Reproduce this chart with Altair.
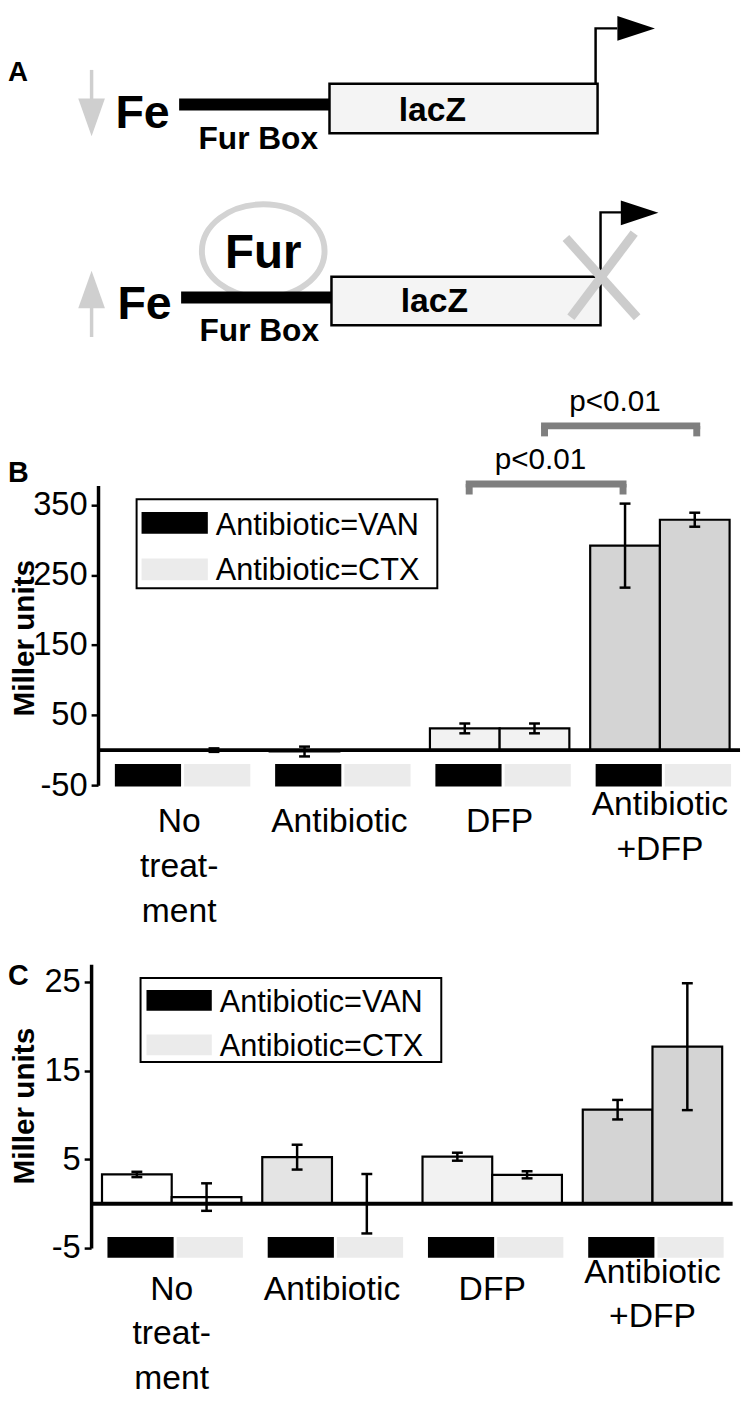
import altair as alt
import pandas as pd

FONT = "Liberation Sans"
BLACK = "#000000"

# ------------------------------------------------------------------ data
treatments = ["No treatment", "Antibiotic", "DFP", "Antibiotic+DFP"]
treatment_lines = [["No", "treat-", "ment"], ["Antibiotic"], ["DFP"], ["Antibiotic", "+DFP"]]
antibiotics = ["VAN", "CTX"]
legend_labels = ["Antibiotic=VAN", "Antibiotic=CTX"]

# panel B (Miller units)
b_van = [0.0, -2.0, 31.0, 292.0]
b_van_err = [0.0, 7.0, 7.0, 60.0]
b_ctx = [0.0, 0.0, 31.0, 329.0]
b_ctx_err = [2.5, 0.0, 7.0, 10.0]
b_ticks = [-50, 50, 150, 250, 350]

# panel C (Miller units)
c_van = [3.3, 5.25, 5.3, 10.6]
c_van_err = [0.3, 1.4, 0.45, 1.1]
c_ctx = [0.75, 0.0, 3.26, 17.7]
c_ctx_err = [1.55, 3.35, 0.4, 7.15]
c_ticks = [-5, 5, 15, 25]

# significance brackets in panel B (group units / Miller units)
sig_labels = ["p<0.01", "p<0.01"]
sig_from = [2.31, 2.78]
sig_to = [3.27, 3.73]
sig_level = [380.0, 463.0]

# panel A schematic (diagram units)
gene_x1 = [333, 335]
gene_x2 = [604, 607]
gene_y1 = [77, 272]
gene_y2 = [127, 321]
gene_label_x = [437, 439]
gene_label_y = [115, 308]
gene_labels = ["lacZ", "lacZ"]
furbox_x1 = [181, 183]
furbox_x2 = [333, 337]
furbox_y = [98, 293]
furbox_label_x = [261, 262]
furbox_label_y = [143, 337]
furbox_labels = ["Fur Box", "Fur Box"]
fe_x = [144, 146]
fe_y = [122, 315]
fe_labels = ["Fe", "Fe"]
promoter_id = [0, 0, 0, 1, 1, 1]
promoter_step = [0, 1, 2, 0, 1, 2]
promoter_x = [602, 602, 624, 607, 607, 628]
promoter_y = [77, 21, 21, 272, 207, 207]
promoter_head_x = [643, 646.5]
promoter_head_y = [21, 207.5]
iron_x = [92.5, 92.5]
iron_y1 = [63, 300]
iron_y2 = [95, 333]
iron_down_head = (92.5, 111)
iron_up_head = (92.5, 285)
fur_center = (266, 246)
fur_text_y = 263
block_x1 = [572, 641]
block_y1 = [233, 228]
block_x2 = [644, 577]
block_y2 = [313, 313]

# ------------------------------------------------------------------ panel A
xA = alt.Scale(domain=[8, 742], range=[0, 734], nice=False, zero=False)
yA = alt.Scale(domain=[8, 350], range=[0, 342], nice=False, zero=False)


def XA(f):
    return alt.X(f, type="quantitative", scale=xA, axis=None)


def YA(f):
    return alt.Y(f, type="quantitative", scale=yA, axis=None)


ELLIPSE = "M-1,0A1,0.76,0,1,1,1,0A1,0.76,0,1,1,-1,0Z"
TRI_RIGHT = "M-1,-0.66L1,0L-1,0.66Z"
TRI_DOWN = "M-0.71,-1L0.71,-1L0,1Z"
TRI_UP = "M0,-1L0.71,1L-0.71,1Z"
GREY_SYM = "#cfcfcf"

genes = pd.DataFrame(dict(x1=gene_x1, x2=gene_x2, y1=gene_y1, y2=gene_y2,
                          lx=gene_label_x, ly=gene_label_y, label=gene_labels))
furbox = pd.DataFrame(dict(x1=furbox_x1, x2=furbox_x2, y=furbox_y,
                           lx=furbox_label_x, ly=furbox_label_y, label=furbox_labels))
fe = pd.DataFrame(dict(x=fe_x, y=fe_y, label=fe_labels))
prom = pd.DataFrame(dict(pid=promoter_id, step=promoter_step, x=promoter_x, y=promoter_y))
prom_head = pd.DataFrame(dict(x=promoter_head_x, y=promoter_head_y))
iron = pd.DataFrame(dict(x=iron_x, y1=iron_y1, y2=iron_y2))
down_head = pd.DataFrame(dict(x=[iron_down_head[0]], y=[iron_down_head[1]]))
up_head = pd.DataFrame(dict(x=[iron_up_head[0]], y=[iron_up_head[1]]))
fur = pd.DataFrame(dict(x=[fur_center[0]], y=[fur_center[1]], ty=[fur_text_y], label=["Fur"]))
block = pd.DataFrame(dict(x1=block_x1, y1=block_y1, x2=block_x2, y2=block_y2))
letterA = pd.DataFrame(dict(x=[8], y=[74], label=["A"]))

a_layers = [
    alt.Chart(fur).mark_point(shape=ELLIPSE, size=124 ** 2, filled=False, color="#d3d3d3",
                              strokeWidth=6, opacity=1).encode(x=XA("x"), y=YA("y")),
    alt.Chart(furbox).mark_rule(color=BLACK, strokeWidth=12).encode(x=XA("x1"), x2="x2", y=YA("y")),
    alt.Chart(genes).mark_rect(fill="#f4f4f4", stroke=BLACK, strokeWidth=2.5).encode(
        x=XA("x1"), x2="x2", y=YA("y1"), y2="y2"),
    alt.Chart(prom).mark_line(color=BLACK, strokeWidth=2.5).encode(
        x=XA("x"), y=YA("y"), detail="pid:N", order="step:O"),
    alt.Chart(prom_head).mark_point(shape=TRI_RIGHT, size=38 ** 2, filled=True, color=BLACK,
                                    opacity=1, strokeWidth=0).encode(x=XA("x"), y=YA("y")),
    alt.Chart(iron).mark_rule(color=GREY_SYM, strokeWidth=3.5).encode(x=XA("x"), y=YA("y1"), y2="y2"),
    alt.Chart(down_head).mark_point(shape=TRI_DOWN, size=38 ** 2, filled=True, color=GREY_SYM,
                                    opacity=1, strokeWidth=0).encode(x=XA("x"), y=YA("y")),
    alt.Chart(up_head).mark_point(shape=TRI_UP, size=38 ** 2, filled=True, color=GREY_SYM,
                                  opacity=1, strokeWidth=0).encode(x=XA("x"), y=YA("y")),
    alt.Chart(block).mark_rule(color="#cccccc", strokeWidth=9).encode(
        x=XA("x1"), y=YA("y1"), x2="x2", y2="y2"),
    alt.Chart(fe).mark_text(font=FONT, fontSize=47, fontWeight="bold", color=BLACK,
                            align="center", baseline="alphabetic").encode(
        x=XA("x"), y=YA("y"), text="label:N"),
    alt.Chart(furbox).mark_text(font=FONT, fontSize=32, fontWeight="bold", color=BLACK,
                                align="center", baseline="alphabetic").encode(
        x=XA("lx"), y=YA("ly"), text="label:N"),
    alt.Chart(genes).mark_text(font=FONT, fontSize=34, fontWeight="bold", color=BLACK,
                               align="center", baseline="alphabetic").encode(
        x=XA("lx"), y=YA("ly"), text="label:N"),
    alt.Chart(fur).mark_text(font=FONT, fontSize=48, fontWeight="bold", color=BLACK,
                             align="center", baseline="alphabetic").encode(
        x=XA("x"), y=YA("ty"), text="label:N"),
    alt.Chart(letterA).mark_text(font=FONT, fontSize=28, fontWeight="bold", color=BLACK,
                                 align="left", baseline="alphabetic").encode(
        x=XA("x"), y=YA("y"), text="label:N"),
]
panelA = alt.layer(*a_layers).properties(width=734, height=342)

# ------------------------------------------------------------------ bar panels
BAR_W = 0.435
CAP = 0.034
SW_OFF = [(-0.401, 0.012), (0.031, 0.444)]
bar_fills = ["#ffffff", "#e4e4e4", "#f2f2f2", "#d4d4d4"]
swatch_colors = ["#000000", "#ebebeb"]


def bar_table(van, van_err, ctx, ctx_err):
    rows = []
    for g, t in enumerate(treatments):
        for a, vals, errs in (("VAN", van, van_err), ("CTX", ctx, ctx_err)):
            left = g + 0.5 - BAR_W if a == "VAN" else g + 0.5
            c = left + BAR_W / 2
            v, e = vals[g], errs[g]
            rows.append(dict(treatment=t, antibiotic=a, x1=left, x2=left + BAR_W, xc=c,
                             cl=c - CAP, cr=c + CAP, v=v, zero=0.0, err=e, lo=v - e, hi=v + e))
    return pd.DataFrame(rows)


def bar_panel(letter, letter_y, van, van_err, ctx, ctx_err, ticks, y_dom, y_rng, x_rng,
              axis_x, title_y, sw_band, lab_top, lab_top2, line_h, leg, height, extra=None):
    xs = alt.Scale(domain=[0, 4], range=x_rng, nice=False, zero=False)
    ys = alt.Scale(domain=y_dom, range=y_rng, nice=False, zero=False)
    yaxis = alt.Axis(values=ticks, labelExpr="datum.value + ''", orient="left", offset=-axis_x,
                     domainColor=BLACK, domainWidth=3.5, tickColor=BLACK, tickWidth=2.5, tickSize=7,
                     labelFont=FONT, labelFontSize=33, labelColor=BLACK, labelPadding=4,
                     labelFlush=False, labelOverlap=False, grid=False, minExtent=0,
                     title="Miller units", titleFont=FONT, titleFontSize=30, titleFontWeight="bold",
                     titleColor=BLACK, titleX=17 - axis_x, titleY=title_y, titleAngle=270,
                     titleAlign="center", titleBaseline="middle")

    def X(f):
        return alt.X(f, type="quantitative", scale=xs, axis=None)

    def Y(f):
        return alt.Y(f, type="quantitative", scale=ys, axis=yaxis)

    fill_scale = alt.Scale(domain=treatments, range=bar_fills)
    sw_scale = alt.Scale(domain=antibiotics, range=swatch_colors)

    bars = bar_table(van, van_err, ctx, ctx_err)
    errs = bars[bars["err"] > 0]
    base = pd.DataFrame(dict(x1=[0.0], x2=[4.0], y=[0.0]))
    sw_rows = []
    for g in range(4):
        for a, (o1, o2) in zip(antibiotics, SW_OFF):
            sw_rows.append(dict(antibiotic=a, x1=g + 0.5 + o1, x2=g + 0.5 + o2,
                                y1=sw_band[0], y2=sw_band[1]))
    sw = pd.DataFrame(sw_rows)
    labs = pd.DataFrame(dict(x=[g + 0.5 for g in range(4)],
                             label=["\n".join(l) for l in treatment_lines],
                             n=[len(l) for l in treatment_lines]))

    layers = [
        alt.Chart(bars).mark_bar(stroke=BLACK, strokeWidth=2.2, opacity=1).encode(
            x=X("x1"), x2="x2", y=Y("v"), y2="zero",
            fill=alt.Fill("treatment:N", scale=fill_scale, legend=None)),
        alt.Chart(base).mark_rule(color=BLACK, strokeWidth=4).encode(x=X("x1"), x2="x2", y=Y("y")),
        alt.Chart(errs).mark_rule(color=BLACK, strokeWidth=2.5).encode(x=X("xc"), y=Y("lo"), y2="hi"),
        alt.Chart(errs).mark_rule(color=BLACK, strokeWidth=2.5).encode(x=X("cl"), x2="cr", y=Y("lo")),
        alt.Chart(errs).mark_rule(color=BLACK, strokeWidth=2.5).encode(x=X("cl"), x2="cr", y=Y("hi")),
        alt.Chart(sw).mark_rect(opacity=1).encode(
            x=X("x1"), x2="x2", y=Y("y1"), y2="y2",
            color=alt.Color("antibiotic:N", scale=sw_scale, legend=None)),
        alt.Chart(labs[labs["n"] != 2]).mark_text(
            font=FONT, fontSize=34, color=BLACK, align="center", baseline="top",
            lineBreak="\n", lineHeight=line_h).encode(x=X("x"), y=alt.value(lab_top), text="label:N"),
        alt.Chart(labs[labs["n"] == 2]).mark_text(
            font=FONT, fontSize=34, color=BLACK, align="center", baseline="top",
            lineBreak="\n", lineHeight=line_h).encode(x=X("x"), y=alt.value(lab_top2), text="label:N"),
    ]
    # manual legend
    bx1, by1, bx2, by2, sx1, sx2, sy, tx, ty = leg
    one = pd.DataFrame(dict(k=[0]))
    layers.append(alt.Chart(one).mark_rect(fill="white", stroke=BLACK, strokeWidth=2).encode(
        x=alt.value(bx1), x2=alt.value(bx2), y=alt.value(by1), y2=alt.value(by2)))
    for i, (a, lab) in enumerate(zip(antibiotics, legend_labels)):
        row = pd.DataFrame(dict(antibiotic=[a], label=[lab]))
        layers.append(alt.Chart(row).mark_rect(opacity=1).encode(
            x=alt.value(sx1), x2=alt.value(sx2), y=alt.value(sy[i][0]), y2=alt.value(sy[i][1]),
            color=alt.Color("antibiotic:N", scale=sw_scale, legend=None)))
        layers.append(alt.Chart(row).mark_text(
            font=FONT, fontSize=31, color=BLACK, align="left", baseline="alphabetic").encode(
            x=alt.value(tx), y=alt.value(ty[i]), text="label:N"))
    layers.append(alt.Chart(one).mark_text(
        text=letter, font=FONT, fontSize=29, fontWeight="bold", color=BLACK,
        align="left", baseline="alphabetic").encode(x=alt.value(0), y=alt.value(letter_y)))
    if extra is not None:
        layers += extra(X, Y)
    return alt.layer(*layers).properties(width=734, height=height)


def brackets(X, Y):
    drop = 15.0
    br = pd.DataFrame(dict(x1=sig_from, x2=sig_to, y=sig_level,
                           yl=[v - drop for v in sig_level],
                           ty=[v + 21.5 for v in sig_level],
                           tx=[(a + b) / 2 - 0.035 for a, b in zip(sig_from, sig_to)],
                           label=sig_labels))
    grey = "#7f7f7f"
    return [
        alt.Chart(br).mark_rule(color=grey, strokeWidth=7, strokeCap="square").encode(
            x=X("x1"), x2="x2", y=Y("y")),
        alt.Chart(br).mark_rule(color=grey, strokeWidth=7).encode(x=X("x1"), y=Y("yl"), y2="y"),
        alt.Chart(br).mark_rule(color=grey, strokeWidth=7).encode(x=X("x2"), y=Y("yl"), y2="y"),
        alt.Chart(br).mark_text(font=FONT, fontSize=30, color=BLACK, align="center",
                                baseline="alphabetic").encode(x=X("tx"), y=Y("ty"), text="label:N"),
    ]


panelB = bar_panel(
    "B", 130, b_van, b_van_err, b_ctx, b_ctx_err, b_ticks,
    y_dom=[-50, 378], y_rng=[436, 133], x_rng=[92, 740], axis_x=91, title_y=287,
    sw_band=(-20, -52), lab_top=456, lab_top2=439, line_h=45.5,
    leg=(130, 147, 434, 237, 135, 202, [(160, 182), (207, 229)], 210, [183, 229]),
    height=585, extra=brackets)

panelC = bar_panel(
    "C", 53, c_van, c_van_err, c_ctx, c_ctx_err, c_ticks,
    y_dom=[-5, 27], y_rng=[319, 32], x_rng=[84.5, 732.5], axis_x=84, title_y=175,
    sw_band=(-3.75, -6.1), lab_top=344, lab_top2=327, line_h=45,
    leg=(134, 46, 438, 131, 140, 206, [(58, 79), (103, 124)], 214, [80, 125]),
    height=467)

chart = (
    alt.vconcat(panelA, panelB, panelC, spacing=0)
    .properties(padding=0)
    .resolve_scale(x="independent", y="independent", color="independent", fill="independent")
    .configure(font=FONT, background="white")
    .configure_view(stroke=None)
)

chart.save("out.html", embed_options={"renderer": "svg", "actions": False})
